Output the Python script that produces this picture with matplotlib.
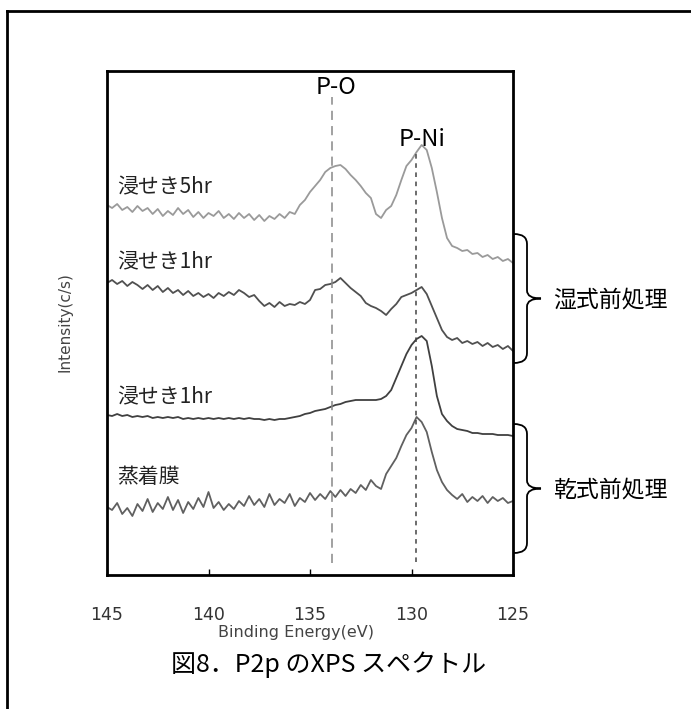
import matplotlib
matplotlib.use("Agg")
import matplotlib.pyplot as plt
from matplotlib.path import Path
from matplotlib.patches import PathPatch
from matplotlib.lines import Line2D
import numpy as np

# binding energy grid (eV), 145 -> 125
energy = np.arange(145.0, 124.99, -0.25)

# intensities (arbitrary units, curves stacked)
dip_5hr = [370, 367, 371, 365, 368, 363, 369, 364, 367, 361, 366, 359, 364, 360, 367, 361,
           365, 358, 363, 357, 362, 359, 364, 357, 361, 356, 362, 357, 361, 355, 360, 354,
           359, 356, 361, 357, 363, 361, 370, 375, 383, 389, 395, 403, 407, 409, 410, 406,
           400, 395, 389, 382, 377, 361, 357, 365, 369, 380, 395, 409, 415, 423, 430, 425,
           407, 383, 357, 337, 329, 327, 324, 325, 321, 322, 318, 320, 316, 318, 314, 316, 312]
dip_1hr_wet = [292, 295, 291, 294, 289, 293, 290, 286, 290, 285, 289, 283, 287, 282, 285, 280,
               284, 279, 282, 278, 281, 277, 282, 279, 283, 280, 285, 282, 278, 280, 274, 269,
               272, 268, 273, 269, 271, 270, 273, 271, 275, 285, 286, 290, 291, 293, 297, 292,
               287, 283, 279, 272, 269, 267, 264, 260, 266, 271, 278, 280, 282, 285, 288, 281,
               269, 257, 245, 238, 235, 237, 232, 234, 231, 233, 229, 232, 228, 230, 226, 229, 224]
dip_1hr_dry = [160, 159, 161, 159, 160, 158, 159, 158, 159, 157, 158, 157, 158, 157, 158, 156,
               157, 156, 157, 156, 157, 156, 157, 156, 157, 156, 157, 156, 157, 156, 156, 155,
               156, 155, 156, 156, 157, 158, 159, 161, 162, 164, 165, 166, 168, 170, 171, 173,
               174, 175, 175, 175, 175, 175, 176, 179, 185, 197, 209, 221, 230, 236, 239, 234,
               209, 179, 161, 154, 149, 146, 145, 144, 142, 142, 141, 141, 141, 140, 140, 140, 139]
evaporated = [68, 65, 72, 61, 67, 59, 71, 64, 76, 63, 72, 66, 78, 65, 75, 62,
              73, 66, 77, 68, 83, 67, 73, 65, 71, 66, 74, 69, 79, 70, 76, 68,
              81, 70, 76, 72, 81, 69, 77, 73, 82, 75, 81, 76, 84, 78, 85, 79,
              86, 82, 90, 85, 95, 89, 86, 101, 109, 117, 129, 140, 147, 158, 153, 143,
              123, 105, 93, 85, 80, 76, 81, 73, 78, 74, 79, 72, 78, 74, 77, 72, 74]

series = [dip_5hr, dip_1hr_wet, dip_1hr_dry, evaporated]
colors = ["#9a9a9a", "#505050", "#404040", "#606060"]
labels = ["浸せき5hr", "浸せき1hr", "浸せき1hr", "蒸着膜"]
label_y = [388, 313, 178, 98]

peak_pos = [133.9, 129.8]
peak_names = ["P-O", "P-Ni"]
groups = ["湿式前処理", "乾式前処理"]

W, H = 691, 709
jp = ["Noto Sans CJK JP", "DejaVu Sans"]

fig = plt.figure(figsize=(W / 100, H / 100), dpi=100)
ax = fig.add_axes([107 / W, 1 - 575 / H, 406 / W, 504 / H])

for y, c in zip(series, colors):
    ax.plot(energy, y, color=c, lw=1.3)

for lab, ly in zip(labels, label_y):
    ax.text(144.5, ly, lab, fontsize=15, family=jp, va="center", ha="left", color="#222")

# peak reference lines
ax.plot([peak_pos[0]] * 2, [12, 478], color="#888888", lw=1.1, dashes=(6, 4))
ax.plot([peak_pos[1]] * 2, [13, 425], color="#444444", lw=1.1, dashes=(3, 3))
ax.text(133.7, 488, peak_names[0], fontsize=17, family=jp, ha="center", va="center")
ax.text(129.5, 436, peak_names[1], fontsize=17, family=jp, ha="center", va="center")

ax.set_xlim(145, 125)
ax.set_ylim(0, 504)
ax.set_yticks([])
ax.set_xticks([145, 140, 135, 130, 125])
ax.tick_params(axis="x", direction="in", length=4, width=1, pad=22,
               labelsize=12.5, labelcolor="#333")
for s in ax.spines.values():
    s.set_linewidth(2)

fig.text(65 / W, 1 - 322 / H, "Intensity(c/s)", rotation=90, fontsize=11,
         color="#444", ha="center", va="center")
fig.text(296 / W, 1 - 633 / H, "Binding Energy(eV)", fontsize=11.5,
         color="#444", ha="center", va="center")
fig.text(329 / W, 1 - 665 / H, "図8．P2p のXPS スペクトル", fontsize=18,
         family=jp, ha="center", va="center")


def px(x, y):
    return (x / W, 1 - y / H)


def brace(y0, y1, x0=514, x1=527, tip=541):
    ym = (y0 + y1) / 2
    verts = [px(x0, y0), px(x1, y0), px(x1, y0 + 10),
             px(x1, ym - 8), px(x1, ym), px(tip, ym),
             px(x1, ym), px(x1, ym + 8),
             px(x1, y1 - 10), px(x1, y1), px(x0, y1)]
    codes = [Path.MOVETO, Path.CURVE3, Path.CURVE3,
             Path.LINETO, Path.CURVE3, Path.CURVE3,
             Path.CURVE3, Path.CURVE3,
             Path.LINETO, Path.CURVE3, Path.CURVE3]
    fig.patches.append(PathPatch(Path(verts, codes), transform=fig.transFigure,
                                 fill=False, lw=1.3, color="black"))


brace(234, 363)
brace(424, 553)
fig.text(553 / W, 1 - 300 / H, groups[0], fontsize=16.5, family=jp, va="center")
fig.text(553 / W, 1 - 490 / H, groups[1], fontsize=16.5, family=jp, va="center")

# outer frame (open to the right and bottom)
fig.lines.append(Line2D([7 / W, 7 / W], [0, 1 - 11 / H], transform=fig.transFigure,
                        color="black", lw=2))
fig.lines.append(Line2D([7 / W, 1], [1 - 11 / H, 1 - 11 / H], transform=fig.transFigure,
                        color="black", lw=2))

fig.savefig("out.png", dpi=100)
